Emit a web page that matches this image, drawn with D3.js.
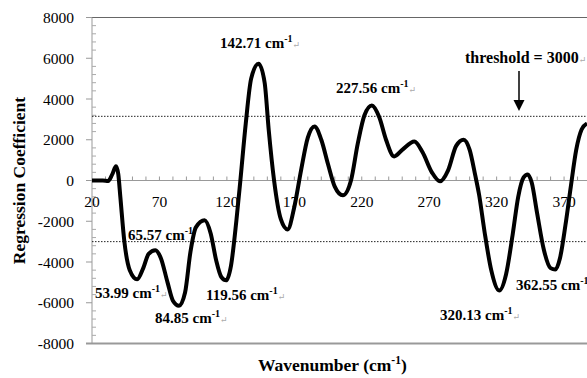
<!DOCTYPE html>
<html>
<head>
<meta charset="utf-8">
<script src="https://cdn.jsdelivr.net/npm/d3@7"></script>
<style>
  body { margin: 0; background: #fff; }
</style>
</head>
<body>
<svg id="chart" width="587" height="378"></svg>
<script>
// wavenumber (cm-1) and regression coefficient
const wavenumber = [20, 28, 32, 35, 37.8, 39.5, 41, 44, 48, 53.5, 58, 62, 67, 71, 76, 80, 84.5, 89, 93, 97,
  103.5, 108, 112, 116, 119.5, 123, 127, 130, 134, 138, 143.5, 148, 151, 155, 160, 165, 170, 175, 180, 185,
  190, 195, 200, 206, 212, 217, 222, 227.5, 233, 238, 244, 250, 259, 265, 272, 278, 284, 290, 295.5, 300,
  304, 307, 311, 316, 322, 327, 332, 336, 340, 343, 346, 350, 355, 360, 363.5, 367, 371, 375, 379, 383, 387];
const coefficient = [0, 0, -20, 300, 700, 300, -800, -3000, -4400, -4850, -4300, -3600, -3420, -3800, -5000, -5900, -6150, -5500, -3500, -2300,
  -1950, -2600, -3900, -4750, -4900, -4200, -2000, 0, 2800, 5000, 5730, 4800, 2500, 0, -1900, -2400, -1300, 500, 2100, 2650,
  2000, 800, -300, -730, 0, 1800, 3200, 3680, 3100, 2000, 1180, 1500, 1910, 1400, 400, -40, 500, 1700, 2000, 1500,
  300, -700, -2500, -4400, -5400, -4600, -2600, -800, 150, 300, -100, -1600, -3400, -4300, -4370, -3800, -2200, -300, 1500, 2500, 2800];

const yTicks = [-8000, -6000, -4000, -2000, 0, 2000, 4000, 6000, 8000];
const xTicks = [20, 70, 120, 170, 220, 270, 320, 370];
const thresholds = [3150, -3000];

// peak annotations: text, left x, baseline y
const peakLabels = [
  { text: "142.71 cm", x: 220, y: 48 },
  { text: "227.56 cm", x: 336, y: 93 },
  { text: "65.57 cm", x: 128, y: 240, noMark: true },
  { text: "53.99 cm", x: 95, y: 298 },
  { text: "84.85 cm", x: 155, y: 323 },
  { text: "119.56 cm", x: 206, y: 300 },
  { text: "320.13 cm", x: 440, y: 320 },
  { text: "362.55 cm", x: 516, y: 290 }
];

const serif = "'Times New Roman', Times, 'Liberation Serif', 'DejaVu Serif', serif";
const svg = d3.select("#chart").style("font-family", serif);
const margin = { left: 92, top: 17.5, right: 0, bottom: 34.5 };

const x = d3.scaleLinear().domain([20, 387]).range([margin.left, 587]);
const y = d3.scaleLinear().domain([-8000, 8000]).range([378 - margin.bottom, margin.top]);

// frame lines
svg.append("line")
    .attr("x1", 86).attr("x2", 587)
    .attr("y1", y(8000)).attr("y2", y(8000))
    .attr("stroke", "#666").attr("stroke-width", 1.2);
svg.append("line")
    .attr("x1", 86).attr("x2", 587)
    .attr("y1", y(-8000)).attr("y2", y(-8000))
    .attr("stroke", "#999").attr("stroke-width", 2);

// y axis: major ticks outside, minor inside
svg.append("line")
    .attr("x1", margin.left).attr("x2", margin.left)
    .attr("y1", y(8000)).attr("y2", y(-8000))
    .attr("stroke", "#999").attr("stroke-width", 1);
svg.selectAll(".ymajor").data(yTicks).enter().append("line")
    .attr("x1", 86).attr("x2", margin.left)
    .attr("y1", d => y(d)).attr("y2", d => y(d))
    .attr("stroke", "#999");
svg.selectAll(".yminor").data(d3.range(-8000, 8001, 400).filter(v => v % 2000 !== 0)).enter().append("line")
    .attr("x1", margin.left).attr("x2", margin.left + 4)
    .attr("y1", d => y(d)).attr("y2", d => y(d))
    .attr("stroke", "#aaa");
svg.selectAll(".ylabel").data(yTicks).enter().append("text")
    .attr("x", 74).attr("y", d => y(d) + 5.5)
    .attr("text-anchor", "end")
    .attr("font-size", 15.5)
    .text(d => d);

// x axis along zero
svg.append("line")
    .attr("x1", margin.left).attr("x2", 587)
    .attr("y1", y(0)).attr("y2", y(0))
    .attr("stroke", "#999");
svg.selectAll(".xtick").data(d3.range(30, 387, 10)).enter().append("line")
    .attr("x1", d => x(d)).attr("x2", d => x(d))
    .attr("y1", y(0)).attr("y2", y(0) - 4)
    .attr("stroke", "#999");
svg.selectAll(".xlabel").data(xTicks).enter().append("text")
    .attr("x", d => x(d)).attr("y", 207)
    .attr("text-anchor", "middle")
    .attr("font-size", 15.5)
    .text(d => d);

// threshold lines
svg.selectAll(".thr").data(thresholds).enter().append("line")
    .attr("x1", margin.left).attr("x2", 587)
    .attr("y1", d => y(d)).attr("y2", d => y(d))
    .attr("stroke", "#222").attr("stroke-width", 1)
    .attr("stroke-dasharray", "1.5,1.5");

// regression coefficient curve
const points = wavenumber.map((w, i) => [w, coefficient[i]]);
const line = d3.line()
    .x(d => x(d[0]))
    .y(d => y(d[1]))
    .curve(d3.curveMonotoneX);

svg.append("path")
    .datum(points)
    .attr("fill", "none")
    .attr("stroke", "#000")
    .attr("stroke-width", 4)
    .attr("stroke-linejoin", "round")
    .attr("d", line);

// annotations
peakLabels.forEach(p => {
    const t = svg.append("text")
        .attr("x", p.x).attr("y", p.y)
        .attr("font-size", 15)
        .attr("font-weight", "bold");
    t.append("tspan").text(p.text);
    t.append("tspan").attr("font-size", 10).attr("dy", -6).text("-1");
    if (!p.noMark) {
        t.append("tspan").attr("font-size", 9).attr("font-weight", "normal")
            .attr("fill", "#aaa").attr("dy", 6).text("\u21b5");
    }
});

const thr = svg.append("text")
    .attr("x", 465).attr("y", 63)
    .attr("font-size", 16).attr("font-weight", "bold");
thr.append("tspan").text("threshold = 3000");
thr.append("tspan").attr("font-size", 9).attr("font-weight", "normal")
    .attr("fill", "#aaa").text("\u21b5");

// arrow
svg.append("line")
    .attr("x1", 519).attr("x2", 519)
    .attr("y1", 71).attr("y2", 101)
    .attr("stroke", "#000").attr("stroke-width", 1.5);
svg.append("path")
    .attr("d", "M513.5,100 L524.5,100 L519,111 Z")
    .attr("fill", "#000");

// axis titles
svg.append("text")
    .attr("transform", "translate(25," + y(0) + ") rotate(-90)")
    .attr("text-anchor", "middle")
    .attr("font-size", 17.5).attr("font-weight", "bold")
    .text("Regression Coefficient");

const xt = svg.append("text")
    .attr("x", 258).attr("y", 371)
    .attr("font-size", 17.5).attr("font-weight", "bold");
xt.append("tspan").text("Wavenumber (cm");
xt.append("tspan").attr("font-size", 11.5).attr("dy", -7).text("-1");
xt.append("tspan").attr("dy", 7).text(")");
</script>
</body>
</html>
